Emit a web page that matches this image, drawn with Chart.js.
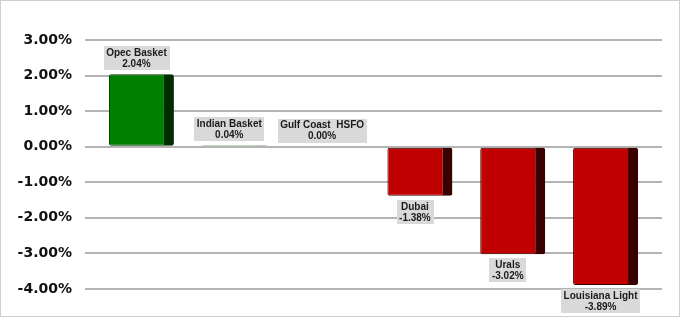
<!DOCTYPE html>
<html>
<head>
<meta charset="utf-8">
<script src="https://cdn.jsdelivr.net/npm/chart.js@4/dist/chart.umd.min.js"></script>
<style>
  html, body { margin: 0; padding: 0; background: #fff; }
  #wrap { width: 680px; height: 317px; box-sizing: border-box; border: 1px solid #cfcfcf; }
</style>
</head>
<body>
<div id="wrap"><canvas id="barChart" width="678" height="315"></canvas></div>
<script>
const categories = ['Opec Basket', 'Indian Basket', 'Gulf Coast  HSFO', 'Dubai', 'Urals', 'Louisiana Light'];
const changes = [2.04, 0.04, 0.00, -1.38, -3.02, -3.89];
const yTicks = [3, 2, 1, 0, -1, -2, -3, -4];

const SIDE = 10;

const barLabels = {
  id: 'barLabels',
  afterDatasetsDraw(chart) {
    const ctx = chart.ctx;
    const meta = chart.getDatasetMeta(0);
    ctx.save();
    ctx.font = 'bold 10px "Liberation Sans", Arial, sans-serif';
    ctx.textAlign = 'center';
    ctx.textBaseline = 'middle';
    meta.data.forEach((bar, i) => {
      const lines = [categories[i], changes[i].toFixed(2) + '%'];
      const w = Math.max(...lines.map(t => ctx.measureText(t).width)) + 5;
      const h = 24;
      const cx = bar.x - SIDE / 2;
      let top;
      if (changes[i] >= 0) top = bar.y - 4 - h;
      else top = bar.y + 4;
      ctx.fillStyle = '#d9d9d9';
      ctx.fillRect(Math.round(cx - w / 2), Math.round(top), Math.round(w), h);
      ctx.fillStyle = '#1a1a1a';
      ctx.fillText(lines[0], cx, top + 7);
      ctx.fillText(lines[1], cx, top + 18);
    });
    ctx.restore();
  }
};

const barCtx = document.getElementById('barChart').getContext('2d');
const barChart = new Chart(barCtx, {
  type: 'bar',
  data: {
    datasets: [{
      data: changes.map((v, i) => ({ x: i, y: v })),
      backgroundColor: changes.map(v => v >= 0 ? '#008000' : '#c00000'),
      borderColor: changes.map(v => v >= 0 ? '#002e00' : '#3a0000'),
      // thin bars (Indian Basket) would be all border otherwise
      borderWidth: ctx => {
        const thin = Math.abs(changes[ctx.dataIndex]) < 0.1;
        return thin ? { left: 0, top: 0, bottom: 0, right: SIDE } : { left: 1, top: 1, bottom: 1, right: SIDE };
      },
      borderSkipped: false,
      borderRadius: ctx => Math.abs(changes[ctx.dataIndex]) < 0.1 ? 0 : 2,
      categoryPercentage: 1,
      barPercentage: 0.70
    }]
  },
  options: {
    responsive: false,
    animation: false,
    layout: { padding: { top: 39, bottom: 27, right: 17, left: 0 } },
    plugins: {
      legend: { display: false },
      tooltip: { enabled: false }
    },
    scales: {
      x: {
        type: 'linear',
        display: false,
        offset: false,
        min: -0.608,
        max: 5.608,
        afterBuildTicks: scale => { scale.ticks = categories.map((c, i) => ({ value: i })); },
        grid: { offset: false }
      },
      y: {
        min: -4,
        max: 3,
        afterBuildTicks: scale => { scale.ticks = yTicks.map(v => ({ value: v })); },
        afterFit: scale => { scale.width = 84; },
        border: { display: false },
        grid: { color: '#b4b4b4', lineWidth: 2, drawTicks: false },
        ticks: {
          padding: 13,
          color: '#111',
          font: { family: '"DejaVu Sans", Verdana, sans-serif', size: 14, weight: 'bold' },
          callback: v => v.toFixed(2) + '%'
        }
      }
    }
  },
  plugins: [barLabels]
});
</script>
</body>
</html>
